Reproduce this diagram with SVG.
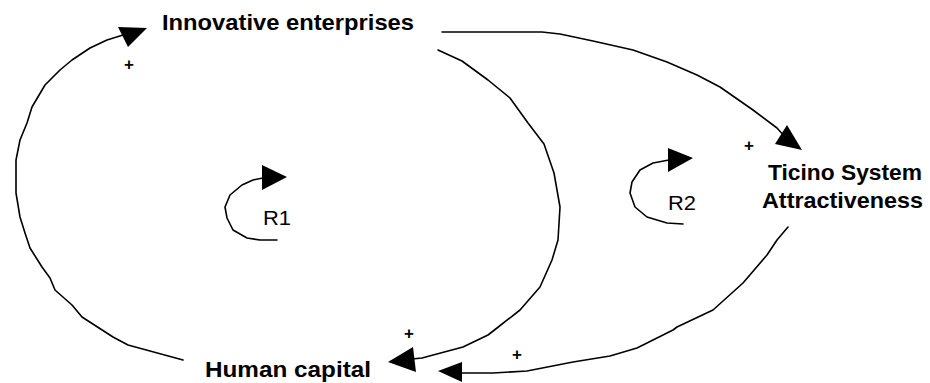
<svg xmlns="http://www.w3.org/2000/svg" width="930" height="383" viewBox="0 0 930 383">
  <style>
    .link { fill: none; stroke: #000; stroke-width: 1.6; stroke-linejoin: round; stroke-linecap: round; }
    .head { fill: #000; stroke: none; }
    .node { font-family: "Liberation Sans", Arial, sans-serif; font-weight: bold; font-size: 22px; fill: #000; }
    .loop { font-family: "Liberation Sans", Arial, sans-serif; font-size: 21px; fill: #000; }
    .sign { font-family: "Liberation Sans", Arial, sans-serif; font-weight: bold; font-size: 17px; fill: #000; text-anchor: middle; }
  </style>
  <rect width="930" height="383" fill="#fff"/>

  <g id="innovative-enterprises">
    <text class="node" x="162" y="30" textLength="252" lengthAdjust="spacingAndGlyphs">Innovative enterprises</text>
  </g>
  <g id="ticino-system-attractiveness">
    <text class="node" x="768" y="180" textLength="154" lengthAdjust="spacingAndGlyphs">Ticino System</text>
    <text class="node" x="762" y="208" textLength="161" lengthAdjust="spacingAndGlyphs">Attractiveness</text>
  </g>
  <g id="human-capital">
    <text class="node" x="205" y="377" textLength="166" lengthAdjust="spacingAndGlyphs">Human capital</text>
  </g>

  <g id="connectors">
    <!-- Human capital -> Innovative enterprises -->
    <polyline class="link" points="183,360 128,345 113,337 82,317 72,305 55,290 50,278 42,267 30,248 25,233 20,217 16,193 16,160 20,140 27,123 32,107 45,85 60,70 72,60 90,48 107,40 123,35"/>
    <polygon class="head" points="147,28 118,27 128,47"/>
    <text class="sign" x="129" y="70">+</text>

    <!-- Innovative enterprises -> Human capital -->
    <polyline class="link" points="438,50 462,61 488,80 510,98 528,123 544,144 554,173 560,207 558,240 552,260 540,287 520,310 497,328 488,335 463,347 422,358 412,359"/>
    <polygon class="head" points="388,362 413,347 416,372"/>
    <text class="sign" x="409" y="339">+</text>

    <!-- Innovative enterprises -> Ticino System Attractiveness -->
    <polyline class="link" points="442,32 542,32 560,34 593,41 633,50 667,62 697,75 720,87 753,110 777,128 786,138"/>
    <polygon class="head" points="802,150 787,125 775,144"/>
    <text class="sign" x="749" y="151">+</text>

    <!-- Ticino System Attractiveness -> Human capital -->
    <polyline class="link" points="788,227 777,240 767,255 743,283 713,310 677,327 673,330 637,348 610,356 573,362 527,371 493,373 460,373"/>
    <polygon class="head" points="438,371 462,362 462,382"/>
    <text class="sign" x="517" y="360">+</text>
  </g>

  <g id="loop-r1">
    <polyline class="link" points="277,240 260,240 247,238 233,230 227,218 225,207 230,195 242,185 253,180 263,178"/>
    <polygon class="head" points="287,177 262,165 262,190"/>
    <text class="loop" x="263" y="225" textLength="28" lengthAdjust="spacingAndGlyphs">R1</text>
  </g>

  <g id="loop-r2">
    <polyline class="link" points="683,224 667,223 647,217 635,207 630,193 632,182 640,170 653,163 669,160"/>
    <polygon class="head" points="693,158 668,148 668,172"/>
    <text class="loop" x="668" y="210" textLength="28" lengthAdjust="spacingAndGlyphs">R2</text>
  </g>
</svg>
